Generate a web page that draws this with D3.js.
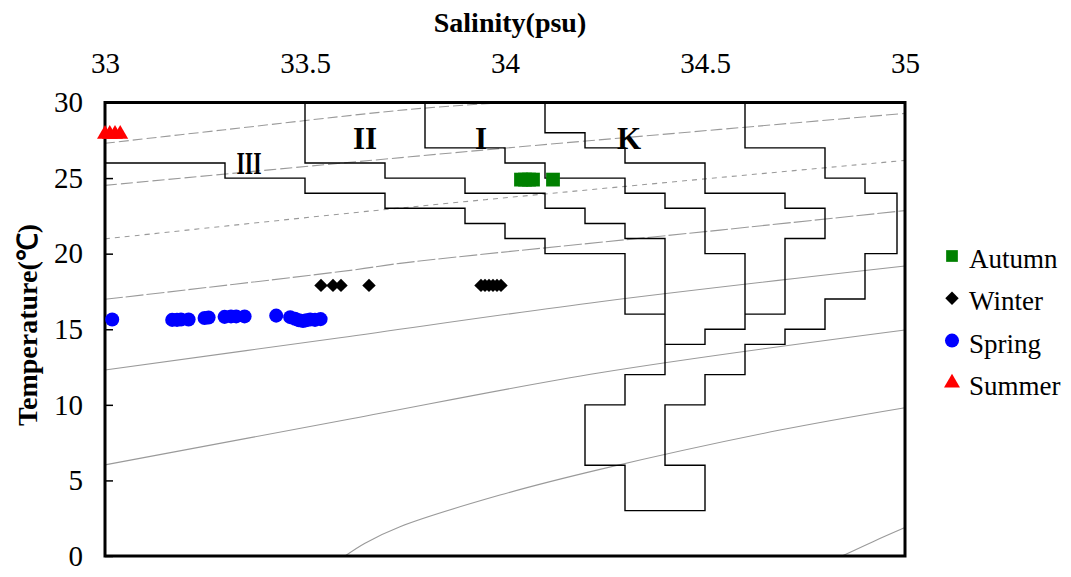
<!DOCTYPE html>
<html><head><meta charset="utf-8">
<script src="https://cdn.jsdelivr.net/npm/d3@7"></script>
<style>body{margin:0;background:#fff}</style>
</head><body>
<svg id="c" width="1071" height="577"></svg>
<script>
// ---- data ----
const salinityTicks = [33, 33.5, 34, 34.5, 35];
const tempTicks = [0, 5, 10, 15, 20, 25, 30];
const seasons = ["Autumn", "Winter", "Spring", "Summer"];
const seasonColors = ["#008000", "#000000", "#0000ff", "#ff0000"];

const autumnS = [34.04, 34.05, 34.06, 34.07, 34.12];
const autumnT = [24.9, 24.9, 24.9, 24.9, 24.9];
const winterS = [33.54, 33.57, 33.59, 33.66, 33.94, 33.95, 33.96, 33.97, 33.98, 33.99];
const winterT = [17.9, 17.9, 17.9, 17.9, 17.9, 17.9, 17.9, 17.9, 17.9, 17.9];
const springS = [33.018, 33.168, 33.18, 33.19, 33.209, 33.249, 33.259, 33.299, 33.315, 33.328, 33.349, 33.428,
                 33.463, 33.475, 33.485, 33.495, 33.503, 33.513, 33.525, 33.539];
const springT = [15.65, 15.62, 15.62, 15.65, 15.65, 15.75, 15.78, 15.82, 15.85, 15.85, 15.85, 15.9,
                 15.8, 15.7, 15.6, 15.55, 15.6, 15.65, 15.62, 15.67];
const summerS = [33.0, 33.012, 33.025, 33.038];
const summerT = [27.9, 27.9, 27.9, 27.9];

// water-mass boundary lines [salinity, temperature]
const boundaryA = [[33,26],[33.3,26],[33.3,25],[33.5,25],[33.5,24],[33.7,24],[33.7,23],[33.9,23],[33.9,22],[34.0,22],[34.0,21],[34.1,21],[34.1,20],[34.3,20],[34.3,16],[34.4,16]];
const boundaryB = [[33.8,30],[33.8,27],[34.0,27],[34.0,26],[34.1,26],[34.1,25],[34.3,25],[34.3,24],[34.4,24],[34.4,23],[34.5,23],[34.5,20],[34.6,20],[34.6,15],[34.5,15],[34.5,14],[34.4,14]];
const boundaryC = [[34.1,30],[34.1,28],[34.2,28],[34.2,27],[34.3,27],[34.3,26],[34.5,26],[34.5,24],[34.7,24],[34.7,23],[34.8,23],[34.8,21],[34.7,21],[34.7,16],[34.6,16]];
const boundaryD = [[33.5,30],[33.5,26],[33.7,26],[33.7,25],[33.9,25],[33.9,24],[34.1,24],[34.1,23],[34.2,23],[34.2,22],[34.3,22],[34.3,21],[34.4,21],[34.4,12],[34.3,12],[34.3,10],[34.2,10],[34.2,6],[34.3,6],[34.3,3],[34.5,3],[34.5,6],[34.4,6],[34.4,10],[34.5,10],[34.5,12],[34.6,12],[34.6,14],[34.7,14],[34.7,15],[34.8,15],[34.8,17],[34.9,17],[34.9,20],[34.98,20],[34.98,24],[34.9,24],[34.9,25],[34.8,25],[34.8,27],[34.6,27],[34.6,30]];

// background density (sigma-t) curves
const contour1 = [[33,27.3],[33.3,28.2],[33.76,29.54],[34.0,30]];
const contour2 = [[33,24.52],[33.7625,26.41],[34.0375,27.07],[34.5375,28.22],[35,29.28]];
const contour3 = [[33,20.98],[33.67,22.84],[34.2875,24.42],[35,26.17]];
const contour4 = [[33,16.98],[33.62,18.92],[33.7375,19.36],[34.5375,21.56],[35,22.85]];
const contour5 = [[33,12.3],[33.5875,14.44],[34.2375,16.82],[35,19.18]];
const contour6 = [[33,6.03],[33.6125,9.06],[34.2375,12.12],[35,14.95]];
const contour7 = [[33.6,0],[33.65,0.85],[33.7375,1.94],[33.9875,4.03],[34.2375,5.73],[34.6875,8.33],[35,9.81]];
const contour8 = [[34.8425,0],[34.92,0.95],[35,1.88]];

const regionNames = ["Ⅲ", "II", "I", "K"];
const regionS = [33.36, 33.65, 33.94, 34.31];
const regionT = [25.25, 26.92, 26.92, 26.92];

// ---- drawing ----
const svg = d3.select("#c");
const serif = "'Liberation Serif','Times New Roman',serif";
const x = d3.scaleLinear().domain([33, 35]).range([105, 905]);
const y = d3.scaleLinear().domain([0, 30]).range([556, 102.5]);

const line = d3.line().x(d => x(d[0])).y(d => y(d[1]));
const curve = d3.line().x(d => x(d[0])).y(d => y(d[1])).curve(d3.curveCatmullRom.alpha(0.5));

const contours = [
  [contour1, "10,4"], [contour2, "12,4"], [contour3, "5,5"], [contour4, "18,3"],
  [contour5, null], [contour6, null], [contour7, null], [contour8, null]
];
const cg = svg.append("g");
contours.forEach(([pts, dash]) => {
  cg.append("path").attr("d", curve(pts)).attr("fill", "none")
    .attr("stroke", "#9a9a9a").attr("stroke-width", 1.1)
    .attr("stroke-dasharray", dash);
});

const bg = svg.append("g");
[boundaryA, boundaryB, boundaryC, boundaryD].forEach(pts => {
  bg.append("path").attr("d", line(pts)).attr("fill", "none")
    .attr("stroke", "#000").attr("stroke-width", 1.4);
});

// region labels
svg.append("g").selectAll("text").data(regionNames).join("text")
  .attr("x", (d, i) => x(regionS[i])).attr("y", (d, i) => y(regionT[i]))
  .attr("text-anchor", "middle")
  .attr("font-family", serif).attr("font-weight", "bold").attr("font-size", 31)
  .text(d => d === "Ⅲ" ? "III" : d)
  .each(function(d) { if (d === "Ⅲ") d3.select(this).attr("textLength", 25).attr("lengthAdjust", "spacingAndGlyphs"); });

// frame
svg.append("rect").attr("x", x(33)).attr("y", y(30))
  .attr("width", x(35) - x(33)).attr("height", y(0) - y(30))
  .attr("fill", "none").attr("stroke", "#000").attr("stroke-width", 3);

// axes
const ya = svg.append("g").attr("transform", `translate(${x(33)},0)`)
  .call(d3.axisLeft(y).tickValues(tempTicks).tickSize(-8).tickPadding(22).tickFormat(d3.format("d")));
ya.select(".domain").remove();
ya.selectAll("line").attr("stroke", "#000").attr("stroke-width", 1.5);
ya.selectAll("text").attr("font-family", serif).attr("font-size", 29).attr("fill", "#000");

const xa = svg.append("g").attr("transform", `translate(0,${y(30)})`)
  .call(d3.axisTop(x).tickValues(salinityTicks).tickSize(0).tickPadding(30).tickFormat(d => d));
xa.select(".domain").remove();
xa.selectAll("text").attr("font-family", serif).attr("font-size", 29).attr("fill", "#000");

svg.append("text").attr("x", 510).attr("y", 32).attr("text-anchor", "middle")
  .attr("font-family", serif).attr("font-weight", "bold").attr("font-size", 28)
  .text("Salinity(psu)");
svg.append("text").attr("transform", "translate(37,325) rotate(-90)").attr("text-anchor", "middle")
  .attr("font-family", serif).attr("font-weight", "bold").attr("font-size", 28)
  .text("Temperature(℃)");

// markers
const symSquare = d3.symbol().type(d3.symbolSquare).size(190)();
const symDiamond = d3.symbol().type(d3.symbolSquare).size(90)();
const symCircle = d3.symbol().type(d3.symbolCircle).size(155)();
const symTriangle = d3.symbol().type(d3.symbolTriangle).size(110)();

function plot(S, T, path, color, rot) {
  svg.append("g").selectAll("path").data(S).join("path")
    .attr("d", path).attr("fill", color)
    .attr("transform", (d, i) => `translate(${x(d)},${y(T[i])})` + (rot ? " rotate(45)" : ""));
}
plot(autumnS, autumnT, symSquare, seasonColors[0], false);
plot(winterS, winterT, symDiamond, seasonColors[1], true);
plot(springS, springT, symCircle, seasonColors[2], false);
plot(summerS, summerT, symTriangle, seasonColors[3], false);

// legend
const legSyms = [[symSquare, false], [symDiamond, true], [symCircle, false], [symTriangle, false]];
const lg = svg.append("g");
seasons.forEach((s, i) => {
  const by = 268 + i * 42.3;
  lg.append("path").attr("d", legSyms[i][0]).attr("fill", seasonColors[i])
    .attr("transform", `translate(952,${by - 12})` + (legSyms[i][1] ? " rotate(45)" : "") + (i === 0 ? " scale(0.85)" : ""));
  lg.append("text").attr("x", 969).attr("y", by)
    .attr("font-family", serif).attr("font-size", 27).text(s);
});
</script>
</body></html>
